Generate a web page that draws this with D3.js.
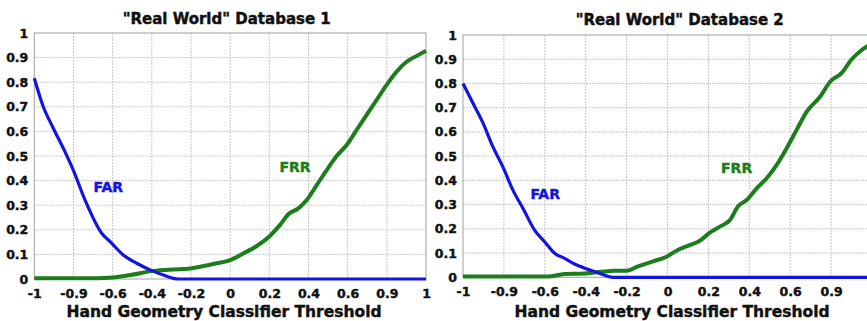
<!DOCTYPE html>
<html>
<head>
<meta charset="utf-8">
<title>FAR / FRR</title>
<script src="https://d3js.org/d3.v7.min.js"></script>
<style>
body { margin:0; background:#fff; }
svg { display:block; font-family:'DejaVu Sans', sans-serif; font-weight:bold; }
.grid line { stroke:#c8c8c8; stroke-width:1; stroke-dasharray:2,1; }
.heavy { paint-order:stroke; stroke-width:0.45px; }
</style>
</head>
<body>
<svg width="867" height="321"></svg>
<script>
// tick positions (evenly spaced) and the labels printed under them
var xTicks = [-1, -0.8, -0.6, -0.4, -0.2, 0, 0.2, 0.4, 0.6, 0.8, 1];
var xTickLabels = ["-1", "-0.9", "-0.6", "-0.4", "-0.2", "0", "0.2", "0.4", "0.6", "0.9", "1"];
var yTicks = [0, 0.1, 0.2, 0.3, 0.4, 0.5, 0.6, 0.7, 0.8, 0.9, 1];
var yTickLabels = ["0", "0.1", "0.2", "0.3", "0.4", "0.5", "0.6", "0.7", "0.8", "0.9", "1"];

// database 1
var far1 = [[-1,0.816],[-0.954,0.70],[-0.903,0.613],[-0.843,0.517],[-0.801,0.443],[-0.741,0.321],
  [-0.656,0.186],[-0.613,0.152],[-0.546,0.098],[-0.477,0.064],[-0.409,0.037],[-0.341,0.016],
  [-0.265,0],[1,0]];
var frr1 = [[-1,0.003],[-0.68,0.003],[-0.6,0.006],[-0.511,0.016],[-0.392,0.033],[-0.29,0.039],
  [-0.214,0.042],[-0.154,0.05],[-0.069,0.064],[0,0.077],[0.067,0.104],[0.136,0.134],[0.204,0.176],
  [0.255,0.22],[0.297,0.263],[0.348,0.287],[0.391,0.321],[0.442,0.382],[0.493,0.443],[0.544,0.5],
  [0.595,0.545],[0.646,0.606],[0.697,0.667],[0.748,0.728],[0.799,0.789],[0.85,0.843],[0.901,0.883],
  [0.953,0.907],[1,0.928]];

// database 2
var far2 = [[-1,0.80],[-0.951,0.718],[-0.902,0.636],[-0.854,0.539],[-0.805,0.456],[-0.756,0.36],
  [-0.707,0.285],[-0.65,0.195],[-0.601,0.147],[-0.552,0.099],[-0.503,0.078],[-0.454,0.055],
  [-0.389,0.033],[-0.324,0.014],[-0.267,0],[1,0]];
var frr2 = [[-1,0.003],[-0.585,0.003],[-0.503,0.014],[-0.405,0.016],[-0.324,0.023],[-0.259,0.027],
  [-0.2,0.027],[-0.145,0.045],[-0.07,0.066],[-0.005,0.085],[0.044,0.11],[0.109,0.133],[0.158,0.151],
  [0.207,0.184],[0.256,0.209],[0.305,0.236],[0.346,0.294],[0.387,0.319],[0.436,0.367],[0.485,0.409],
  [0.533,0.463],[0.582,0.532],[0.631,0.608],[0.68,0.683],[0.746,0.745],[0.795,0.807],[0.852,0.844],
  [0.901,0.9],[0.95,0.938],[1,0.966]];

var panels = [
  {title:'"Real World" Database 1', far:far1, frr:frr1,
   left:34.3, right:426, top:33, bottom:279, titleX:226.7, titleY:24, labelX:224, labelY:317,
   farLab:[-0.622,0.373], frrLab:[0.331,0.456]},
  {title:'"Real World" Database 2', far:far2, frr:frr2,
   left:463, right:872, top:35, bottom:277.3, titleX:679.7, titleY:25, labelX:672, labelY:317,
   farLab:[-0.598,0.344], frrLab:[0.338,0.45]}
];

var svg = d3.select("svg");
var blue = "#1414e0", green = "#1b7d1b";

panels.forEach(function(p){
  var x = d3.scaleLinear().domain([-1,1]).range([p.left,p.right]);
  var y = d3.scaleLinear().domain([0,1]).range([p.bottom,p.top]);
  var g = svg.append("g");

  var grid = g.append("g").attr("class","grid");
  grid.selectAll(".vx").data(xTicks.slice(1,-1)).enter().append("line")
    .attr("x1", d => x(d)).attr("x2", d => x(d)).attr("y1", p.top).attr("y2", p.bottom);
  grid.selectAll(".hy").data(yTicks.slice(1,-1)).enter().append("line")
    .attr("y1", d => y(d)).attr("y2", d => y(d)).attr("x1", p.left).attr("x2", p.right);

  g.append("rect").attr("x",p.left).attr("y",p.top)
    .attr("width",p.right-p.left).attr("height",p.bottom-p.top)
    .attr("fill","none").attr("stroke","#a0a0a0").attr("stroke-width",1);

  var xAxis = d3.axisBottom(x).tickValues(xTicks).tickSize(0).tickPadding(10)
    .tickFormat((d,i) => xTickLabels[i]);
  var xa = g.append("g").attr("transform","translate(0,"+p.bottom+")").call(xAxis);
  var yAxis = d3.axisLeft(y).tickValues(yTicks).tickSize(0).tickPadding(6)
    .tickFormat((d,i) => yTickLabels[i]);
  var ya = g.append("g").attr("transform","translate("+p.left+",0)").call(yAxis);
  [xa,ya].forEach(function(a){
    a.select(".domain").remove();
    a.selectAll("text").attr("fill","#111").attr("stroke","#111").attr("class","heavy")
      .style("font-size","12.5px")
      .style("font-family","'DejaVu Sans', sans-serif").style("font-weight","bold");
  });

  var line = d3.line().curve(d3.curveMonotoneX).x(d => x(d[0])).y(d => y(d[1]));
  g.append("path").datum(p.frr).attr("d",line).attr("fill","none")
    .attr("stroke",green).attr("stroke-width",4).attr("stroke-linejoin","round");
  g.append("path").datum(p.far).attr("d",line).attr("fill","none")
    .attr("stroke",blue).attr("stroke-width",3.2).attr("stroke-linejoin","round");

  g.append("text").attr("x",x(p.farLab[0])).attr("y",y(p.farLab[1])+5).attr("class","heavy")
    .attr("text-anchor","middle").attr("fill",blue).attr("stroke",blue)
    .style("font-size","14px").text("FAR");
  g.append("text").attr("x",x(p.frrLab[0])).attr("y",y(p.frrLab[1])+5).attr("class","heavy")
    .attr("text-anchor","middle").attr("fill",green).attr("stroke",green)
    .style("font-size","14px").text("FRR");

  g.append("text").attr("x",p.titleX).attr("y",p.titleY).attr("text-anchor","middle").attr("class","heavy")
    .attr("fill","#111").attr("stroke","#111").style("font-size","15px").text(p.title);
  g.append("text").attr("x",p.labelX).attr("y",p.labelY).attr("text-anchor","middle").attr("class","heavy")
    .attr("fill","#111").attr("stroke","#111").style("font-size","15.5px")
    .text("Hand Geometry Classifier Threshold");
});
</script>
</body>
</html>
